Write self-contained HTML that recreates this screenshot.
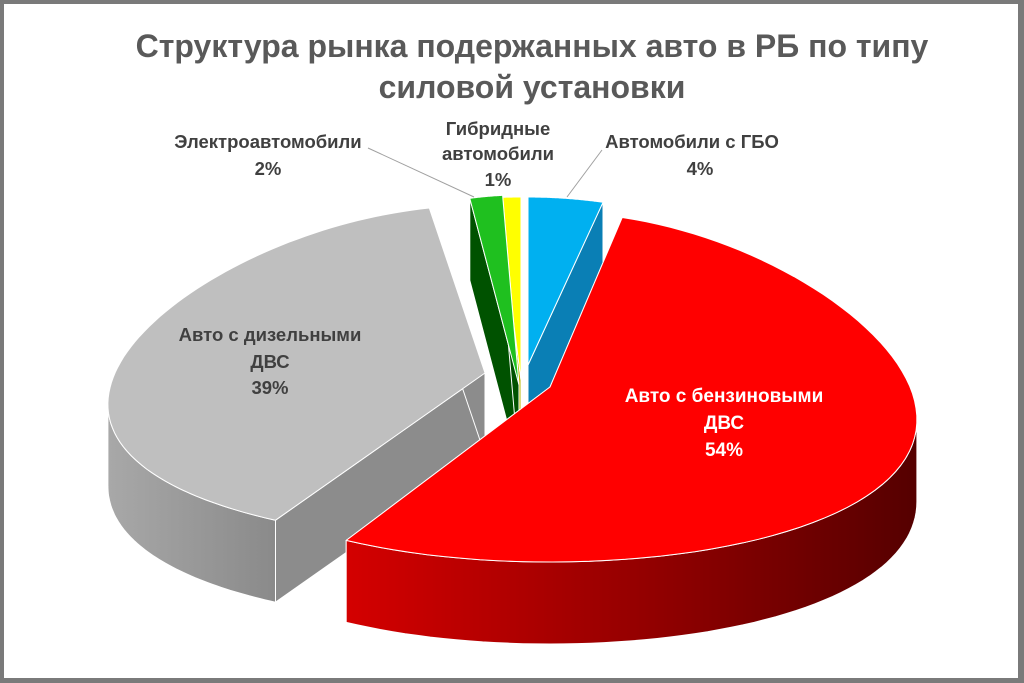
<!DOCTYPE html>
<html><head><meta charset="utf-8"><style>
html,body{margin:0;padding:0;background:#fff}
#wrap{position:relative;width:1024px;height:683px;overflow:hidden;background:#fff}
#frame{position:absolute;left:0;top:0;width:1024px;height:683px;box-sizing:border-box;border-style:solid;border-color:#7a7a7a;border-width:4px 6px 5px 4px}
svg{position:absolute;left:0;top:0}
text{font-family:"Liberation Sans","DejaVu Sans",sans-serif;font-weight:bold}
</style></head><body><div id="wrap">
<svg id="s" width="1024" height="683" viewBox="0 0 1024 683">
<defs>
<linearGradient id="rs" x1="0" x2="1" y1="0" y2="0">
<stop offset="0" stop-color="#d40000"/><stop offset="0.6" stop-color="#8a0000"/><stop offset="1" stop-color="#550000"/></linearGradient>
<linearGradient id="gs" x1="0" x2="1" y1="0" y2="0">
<stop offset="0" stop-color="#a8a8a8"/><stop offset="1" stop-color="#8a8a8a"/></linearGradient>
</defs>
<g id="pie"></g>
<text x="532" y="57" font-size="32" fill="#595959" text-anchor="middle">Структура рынка подержанных авто в РБ по типу</text>
<text x="532" y="98" font-size="32" fill="#595959" text-anchor="middle">силовой установки</text>
<g font-size="18.5" fill="#404040" text-anchor="middle">
<text x="268" y="148">Электроавтомобили</text><text x="268" y="175">2%</text>
<text x="498" y="135">Гибридные</text><text x="498" y="160">автомобили</text><text x="498" y="186">1%</text>
<text x="692" y="148">Автомобили с ГБО</text><text x="700" y="175">4%</text>
<text x="270" y="341">Авто с дизельными</text><text x="270" y="368">ДВС</text><text x="270" y="394">39%</text>
</g>
<g font-size="19" fill="#fff" text-anchor="middle">
<text x="724" y="402">Авто с бензиновыми</text><text x="724" y="429">ДВС</text><text x="724" y="456">54%</text>
</g>
<g stroke="#a0a0a0" stroke-width="1" fill="none">
<line x1="368" y1="148" x2="474" y2="197"/>
<line x1="567" y1="197" x2="602" y2="150"/>
</g>
</svg>
<div id="frame"></div>
</div>
<script>
var D=82,A=0.2;
var S=[
{a0:0,a1:14.4,px:528,py:365,rx:374,ry:168,top:"#00b0f0",side:"#0a7fb5"},
{a0:356.4,a1:360,px:521,py:380,rx:470,ry:183,top:"#ffff00",side:"#b8b800"},
{a0:349.2,a1:356.4,px:519,py:385,rx:327,ry:190,top:"#1fc01f",side:"#005200"},
{a0:208.8,a1:349.2,px:485,py:373,rx:370,ry:168,top:"#bfbfbf",side:"url(#gs)",wall:"#8c8c8c"},
{a0:14.4,a1:208.8,px:550,py:387,rx:360,ry:175,top:"#ff0000",side:"url(#rs)",wall:"#a00000"}
];
function P(s,t){var r=t*Math.PI/180,c=Math.cos(r);return [s.px+s.rx*Math.sin(r)*(1-A*c),s.py-s.ry*c];}
var g=document.getElementById("pie"),h="";
function poly(pts,fill){h+='<polygon points="'+pts.map(function(p){return p[0].toFixed(1)+","+p[1].toFixed(1)}).join(" ")+'" fill="'+fill+'" stroke="#fff" stroke-width="1" stroke-linejoin="round"/>';}
S.forEach(function(s){
  var wall=s.wall||s.side;
  [s.a0,s.a1].forEach(function(t){var q=P(s,t);
    poly([[s.px,s.py],q,[q[0],q[1]+D],[s.px,s.py+D]],wall);});
  var st=Math.max(s.a0,100.7),en=Math.min(s.a1,259.3);
  if(en>st){var top=[],bot=[];
    for(var t=st;t<=en+0.001;t+=(en-st)/60){var q=P(s,t);top.push(q);bot.push([q[0],q[1]+D]);}
    poly(top.concat(bot.reverse()),s.side);}
  var pts=[[s.px,s.py]];
  for(var t=s.a0;t<=s.a1+0.001;t+=(s.a1-s.a0)/80)pts.push(P(s,t));
  poly(pts,s.top);
});
g.innerHTML=h;
</script>
</body></html>
